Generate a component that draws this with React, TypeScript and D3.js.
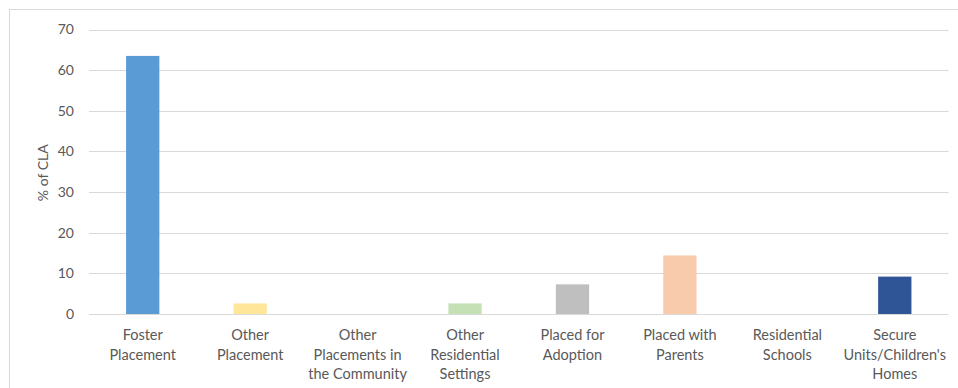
import React from "react";
import * as d3 from "d3";

const categories: string[][] = [
  ["Foster", "Placement"],
  ["Other", "Placement"],
  ["Other", "Placements in", "the Community"],
  ["Other", "Residential", "Settings"],
  ["Placed for", "Adoption"],
  ["Placed with", "Parents"],
  ["Residential", "Schools"],
  ["Secure", "Units/Children's", "Homes"],
];
const values: number[] = [63.5, 2.6, 0, 2.6, 7.3, 14.4, 0, 9.2];
const barColors: string[] = ["#5B9BD5", "#FFE699", "#FFFFFF", "#C5E0B4", "#BFBFBF", "#F8CBAD", "#FFFFFF", "#2F5597"];
const yTicks: number[] = [0, 10, 20, 30, 40, 50, 60, 70];
const yTitle = "% of CLA";

const W = 958;
const H = 388;
const left = 89;
const right = 948.5;
const top = 29.5;
const bottom = 314;
const font = "Lato, 'Open Sans', sans-serif";
const textColor = "#595959";

export default function App() {
  const keys = categories.map((_, i) => String(i));
  const x = d3.scaleBand<string>().domain(keys).range([left, right]).paddingInner(0.69).paddingOuter(0.345);
  const y = d3.scaleLinear().domain([0, 70]).range([bottom, top]);
  return (
    <svg width={W} height={H} style={{ position: "absolute", left: 0, top: 0, background: "#fff" }}>
      <rect x={9.5} y={9.5} width={W + 10} height={H + 10} fill="#fff" stroke="#D9D9D9" strokeWidth={1} />
      {yTicks.map((t) => (
        <g key={t}>
          <line x1={left} x2={right} y1={Math.round(y(t)) + 0.5} y2={Math.round(y(t)) + 0.5} stroke="#D9D9D9" strokeWidth={1} />
          <text x={74} y={y(t)} dy="0.35em" textAnchor="end" fontSize={14} fill={textColor} fontFamily={font}>
            {t}
          </text>
        </g>
      ))}
      {values.map((v, i) => (
        <rect
          key={i}
          x={x(String(i))}
          y={y(v)}
          width={x.bandwidth()}
          height={bottom - y(v)}
          fill={barColors[i]}
        />
      ))}
      {categories.map((lines, i) => {
        const cx = (x(String(i)) as number) + x.bandwidth() / 2;
        return (
          <text key={i} textAnchor="middle" fontSize={14.5} fill={textColor} fontFamily={font}>
            {lines.map((l, j) => (
              <tspan key={j} x={cx} y={340 + j * 19.5}>
                {l}
              </tspan>
            ))}
          </text>
        );
      })}
      <text
        transform={`translate(48,${(top + bottom) / 2 + 1}) rotate(-90)`}
        textAnchor="middle"
        fontSize={14}
        fill={textColor}
        fontFamily={font}
      >
        {yTitle}
      </text>
    </svg>
  );
}
